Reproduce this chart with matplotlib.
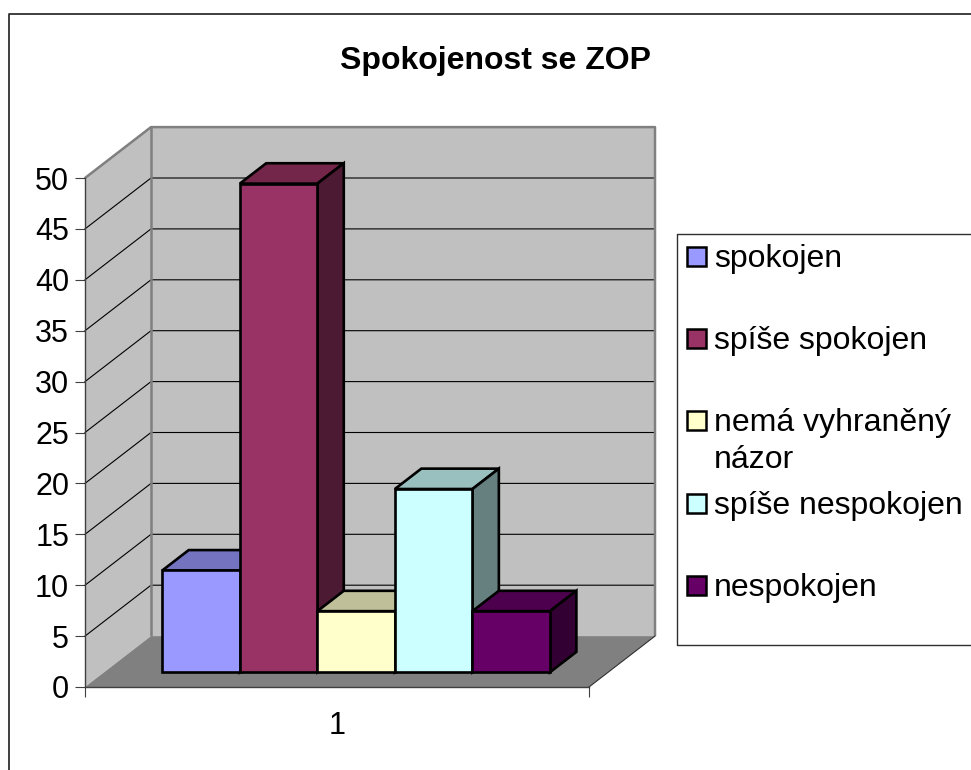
#chart of one category drawn as oblique 3D columns, old office style
import matplotlib
matplotlib.use('Agg')
import matplotlib.pyplot as plt
from matplotlib.patches import Polygon, Rectangle

title = 'Spokojenost se ZOP'
categories = ['1']
series_names = ['spokojen', 'spíše spokojen', 'nemá vyhraněný\nnázor', 'spíše nespokojen', 'nespokojen']
series_values = [10, 48, 6, 18, 6]
series_colors = ['#9999FF', '#993366', '#FFFFCC', '#CCFFFF', '#660066']
top_colors = ['#7373BF', '#732649', '#BFBF99', '#99BFBF', '#4D004D']
side_colors = ['#4D4D80', '#4D1A33', '#808066', '#668080', '#330033']
y_ticks = [0, 5, 10, 15, 20, 25, 30, 35, 40, 45, 50]
legend_rows = [257, 339, 421, 504, 586]

W, H = 971, 770
DX = 66 / 504   # wall depth, x axis units
DY = 5          # wall depth, value units
D0, D1 = 0.29, 0.69  # column front and back inside the depth
BAR_W = 1 / 6.5  # 5 columns + gap of 150%

plt.rcParams['font.family'] = ['Liberation Sans', 'DejaVu Sans']

def project(x, y, d):
    return (x + d * DX, y + d * DY)

def poly(ax, pts, fc, ec='none', lw=0, z=1):
    ax.add_patch(Polygon(pts, closed=True, facecolor=fc, edgecolor=ec, linewidth=lw,
                         joinstyle='miter', zorder=z, clip_on=False))

fig = plt.figure(figsize=(W / 100, H / 100), dpi=100)

# pixel layer for frame and legend
bg = fig.add_axes([0, 0, 1, 1])
bg.set_xlim(0, W)
bg.set_ylim(H, 0)
bg.axis('off')
bg.plot([9, 9, W], [H, 14, 14], color='#303030', lw=1.3)
bg.plot([W, 677, 677, W], [233.5, 233.5, 644.5, 644.5], color='#303030', lw=1.0)
for name, col, row in zip(series_names, series_colors, legend_rows):
    bg.add_patch(Rectangle((687, row - 10), 19, 19, facecolor=col, edgecolor='black', linewidth=1.8))
    for k, line in enumerate(name.split('\n')):
        bg.text(714, row + 10 + k * 37, line, fontsize=23, va='baseline', ha='left', color='black')
bg.text(495, 69, title, fontsize=23, fontweight='bold', ha='center', va='baseline', color='black')

# front plane of the plot
ax = fig.add_axes([85 / W, (H - 687) / H, 504 / W, 509 / H])
ax.set_xlim(0, 1)
ax.set_ylim(0, 50)
ax.patch.set_visible(False)
for s in ['top', 'right']:
    ax.spines[s].set_visible(False)
for s in ['left', 'bottom']:
    ax.spines[s].set_color('#404040')
    ax.spines[s].set_linewidth(1.0)
    ax.spines[s].set_zorder(6)
ax.set_yticks(y_ticks)
ax.set_xticks([0, 1], ['', ''])
ax.set_xticks([0.5], categories, minor=True)
ax.tick_params(axis='both', which='major', length=7, width=0.8, color='#404040', labelsize=22)
ax.tick_params(axis='y', which='major', pad=4.5)
ax.tick_params(axis='x', which='minor', length=0, labelsize=22, pad=17)

# walls
poly(ax, [project(0, 0, 0), project(0, 0, 1), project(1, 0, 1), project(1, 50, 1), project(0, 50, 1), project(0, 50, 0)], '#C0C0C0')
poly(ax, [project(0, 0, 0), project(1, 0, 0), project(1, 0, 1), project(0, 0, 1)], '#808080', z=2)

# gridlines run over side wall and back wall
for v in y_ticks[1:]:
    xs, ys = zip(project(0, v, 0), project(0, v, 1), project(1, v, 1))
    ax.plot(xs, ys, color='black', lw=0.8, zorder=2, clip_on=False)

# wall edges
for pts in ([project(0, 50, 0), project(0, 50, 1), project(1, 50, 1), project(1, 0, 1)],
            [project(0, 0, 1), project(0, 50, 1)]):
    xs, ys = zip(*pts)
    ax.plot(xs, ys, color='#808080', lw=1.8, zorder=3, clip_on=False, solid_capstyle='butt')
xs, ys = zip(project(1, 0, 0), project(1, 0, 1))
ax.plot(xs, ys, color='#303030', lw=0.8, zorder=3, clip_on=False)

# columns
start = 0.5 - BAR_W * len(series_values) / 2
for i, v in enumerate(series_values):
    x0 = start + i * BAR_W
    x1 = x0 + BAR_W
    z = 4 + i * 0.1
    poly(ax, [project(x0, v, D0), project(x1, v, D0), project(x1, v, D1), project(x0, v, D1)], top_colors[i], 'black', 1.9, z)
    poly(ax, [project(x1, 0, D0), project(x1, 0, D1), project(x1, v, D1), project(x1, v, D0)], side_colors[i], 'black', 1.9, z)
    poly(ax, [project(x0, 0, D0), project(x1, 0, D0), project(x1, v, D0), project(x0, v, D0)], series_colors[i], 'black', 1.9, z)

fig.savefig('out.png', dpi=100)
